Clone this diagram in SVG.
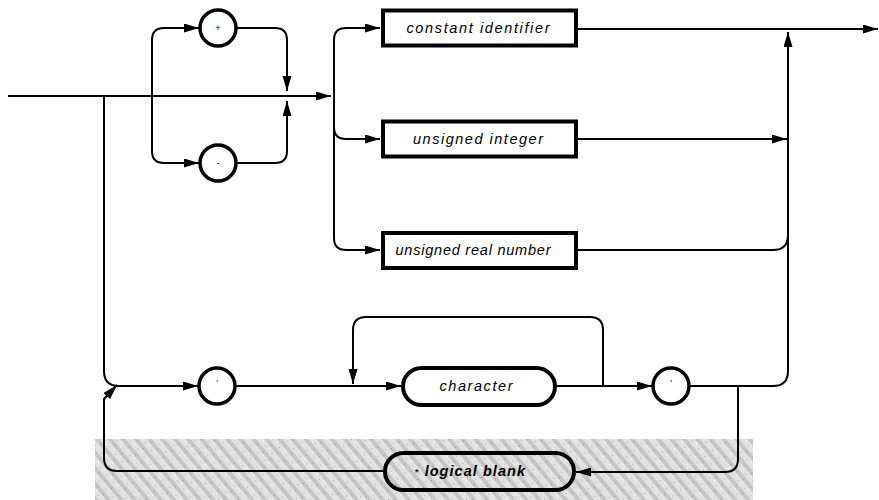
<svg xmlns="http://www.w3.org/2000/svg" width="879" height="500" viewBox="0 0 879 500">
<style>
.ln{fill:none;stroke:#000;stroke-width:2}
.box{fill:#fff;stroke:#000;stroke-width:4}
.circ{fill:#fff;stroke:#000;stroke-width:3.5}
.lbl{font-family:"Liberation Sans",Arial,sans-serif;font-style:italic;font-size:14.5px;fill:#000;text-anchor:middle}
.sym{font-family:"Liberation Sans",Arial,sans-serif;font-size:9px;fill:#000;text-anchor:middle}
</style>
<defs>
<marker id="ar" markerUnits="userSpaceOnUse" markerWidth="16" markerHeight="10" refX="15" refY="4.5" orient="auto">
<path d="M0,0 L15,4.5 L0,9 z" fill="#000"/>
</marker>
<pattern id="hatch" patternUnits="userSpaceOnUse" width="10" height="10" patternTransform="rotate(-40)">
<rect width="10" height="10" fill="#e2e2e2"/>
<rect width="4" height="10" fill="#c6c6c6"/>
<rect x="6" y="2" width="1" height="1" fill="#aaa"/>
<rect x="8" y="7" width="1" height="1" fill="#fff"/>
<rect x="1" y="5" width="1" height="1" fill="#999"/>
</pattern>
</defs>
<rect x="95" y="439" width="658" height="61" fill="url(#hatch)"/>
<g id="connectors">
<path class="ln" d="M8,96 H331" marker-end="url(#ar)"/>
<path class="ln" d="M152,40 V151"/>
<path class="ln" d="M152,40 Q152,28 164,28 H199" marker-end="url(#ar)"/>
<path class="ln" d="M152,151 Q152,163 164,163 H199" marker-end="url(#ar)"/>
<path class="ln" d="M236,28 H275 Q287,28 287,40 V91" marker-end="url(#ar)"/>
<path class="ln" d="M236,163 H275 Q287,163 287,151 V101" marker-end="url(#ar)"/>
<path class="ln" d="M334,40 V238"/>
<path class="ln" d="M334,40 Q334,28 346,28 H380" marker-end="url(#ar)"/>
<path class="ln" d="M334,127 Q334,139 346,139 H380" marker-end="url(#ar)"/>
<path class="ln" d="M334,238 Q334,250 346,250 H380" marker-end="url(#ar)"/>
<path class="ln" d="M578,29 H878" marker-end="url(#ar)"/>
<path class="ln" d="M578,139 H787" marker-end="url(#ar)"/>
<path class="ln" d="M578,250 H773 Q788,250 788,235"/>
<path class="ln" d="M689,386 H773 Q788,386 788,371 V32" marker-end="url(#ar)"/>
<path class="ln" d="M104,96 V371 Q104,386 119,386 H198" marker-end="url(#ar)"/>
<path class="ln" d="M235,386 H401" marker-end="url(#ar)"/>
<path class="ln" d="M603,386 V330 Q603,317 590,317 H366 Q353,317 353,330 V384" marker-end="url(#ar)"/>
<path class="ln" d="M556,386 H652" marker-end="url(#ar)"/>
<path class="ln" d="M738,386 V459 Q738,472 725,472 H576" marker-end="url(#ar)"/>
<path class="ln" d="M383,471 H117 Q104,471 104,458 V399 L117,385" marker-end="url(#ar)"/>
</g>
<g id="plus"><circle class="circ" cx="218" cy="28" r="18"/><text class="sym" x="218" y="31">+</text></g>
<g id="minus"><circle class="circ" cx="218" cy="163" r="18"/><text class="sym" x="218" y="166">-</text></g>
<g id="constant-identifier"><rect class="box" x="383" y="10.5" width="193" height="35"/><text class="lbl" x="478" y="33" textLength="143" lengthAdjust="spacing">constant identifier</text></g>
<g id="unsigned-integer"><rect class="box" x="383" y="121.5" width="193" height="35"/><text class="lbl" x="478" y="144" textLength="130" lengthAdjust="spacing">unsigned integer</text></g>
<g id="unsigned-real-number"><rect class="box" x="383" y="233" width="193" height="35"/><text class="lbl" x="473" y="255" textLength="155" lengthAdjust="spacing">unsigned real number</text></g>
<g id="quote-open"><circle class="circ" cx="217" cy="386" r="18"/><text class="sym" x="217" y="386">'</text></g>
<g id="character"><rect class="box" x="403" y="368" width="152" height="37" rx="18.5"/><text class="lbl" x="476" y="391" textLength="73" lengthAdjust="spacing">character</text></g>
<g id="quote-close"><circle class="circ" cx="671" cy="386" r="18"/><text class="sym" x="671" y="386">'</text></g>
<g id="logical-blank"><rect class="box" x="385" y="453" width="189" height="37" rx="18.5" style="fill:none"/><text class="lbl" x="470" y="476" font-weight="bold" textLength="110" lengthAdjust="spacing"><tspan font-size="9" font-style="normal" dy="-1">*</tspan><tspan dy="1"> logical blank</tspan></text></g>
</svg>
